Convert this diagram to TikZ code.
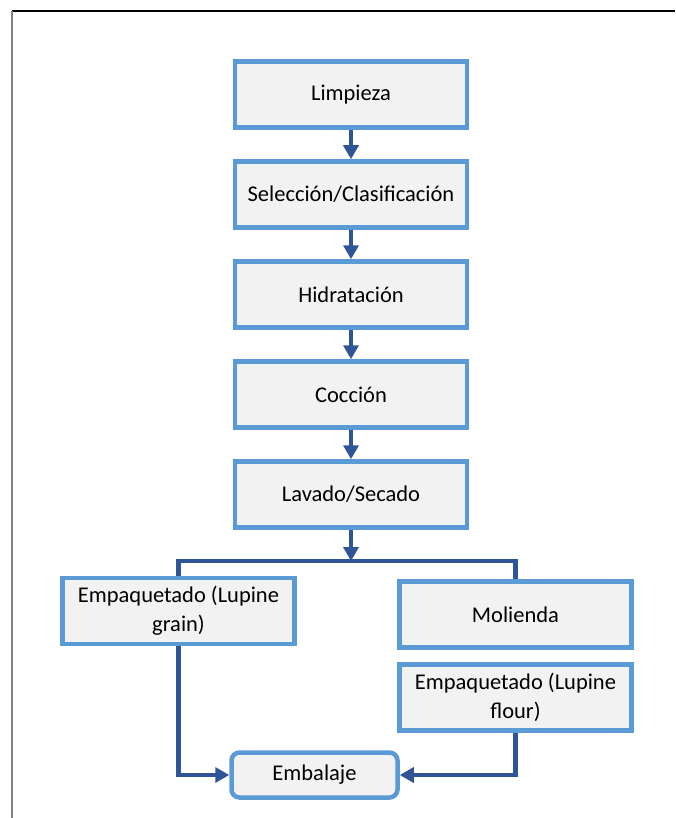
\documentclass[tikz,border=0pt]{standalone}
\usepackage{fontspec}
\setmainfont{Carlito}
\usetikzlibrary{positioning,arrows.meta}

\definecolor{boxline}{HTML}{5B9BD5}
\definecolor{boxfill}{HTML}{F2F2F2}
\definecolor{flowline}{HTML}{2F5597}

\tikzset{
  stage/.style={draw=boxline, fill=boxfill, line width=4.5pt,
    minimum width=232pt, minimum height=66pt, inner sep=2pt,
    align=center, font=\fontsize{22.5}{29}\selectfont},
  flow/.style={draw=flowline, line width=4.5pt,
    -{Triangle[length=14pt,width=15pt]}},
  joint/.style={draw=flowline, line width=4.5pt}
}

\begin{document}
\begin{tikzpicture}[x=1pt,y=-1pt]
\useasboundingbox (0,0) rectangle (675,818);
\draw[black, line width=2pt] (12,11.5) -- (675,11.5);
\draw[gray, line width=2pt] (12,11.5) -- (12,818);

\node[stage] (limp) at (351,94.5) {Limpieza};
\node[stage] (selec) [below=29.5pt of limp] {Selección/Clasificación};
\node[stage] (hidr) [below=29.5pt of selec] {Hidratación};
\node[stage] (cocc) [below=29.5pt of hidr] {Cocción};
\node[stage] (lava) [below=29.5pt of cocc] {Lavado/Secado};

\coordinate (split) at (351,561);

\node[stage] (grano) at (178.5,611) {Empaquetado (Lupine\\grain)};
\node[stage] (moli) at (515.5,614.5) {Molienda};
\node[stage] (harina) at (515.5,697.5) {Empaquetado (Lupine\\flour)};
\node[stage, rounded corners=8pt, minimum width=166pt, minimum height=45pt] (emba) at (314.5,775) {Embalaje};

\draw[flow] (limp) -- (selec);
\draw[flow] (selec) -- (hidr);
\draw[flow] (hidr) -- (cocc);
\draw[flow] (cocc) -- (lava);
\draw[flow] (lava) -- (split);
\draw[joint] (grano.north) |- (split) -| (moli.north);

\draw[flow] (grano.south) |- (emba.west);
\draw[flow] (harina.south) |- (emba.east);
\end{tikzpicture}
\end{document}
